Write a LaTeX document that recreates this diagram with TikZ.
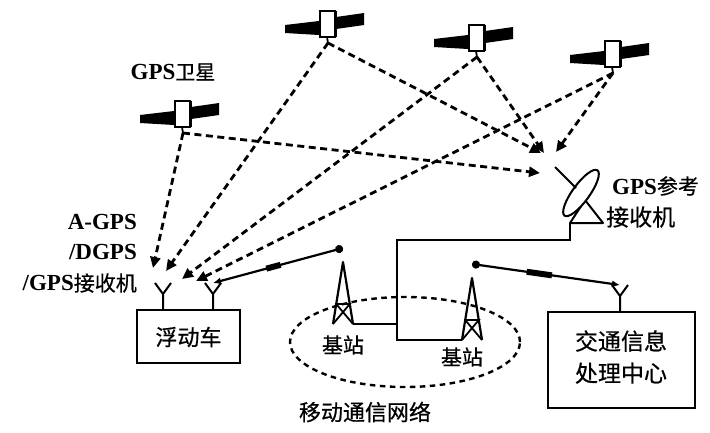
\documentclass[tikz,border=0pt]{standalone}
\usepackage{fontspec}
\setmainfont{Liberation Serif}
\newfontfamily\cjk{Noto Sans CJK SC}[FakeBold=0.6]
\usetikzlibrary{arrows.meta,shapes.geometric,calc}
\begin{document}
\begin{tikzpicture}[x=1pt,y=-1pt,
  signal/.style={line width=2.8pt, dash pattern=on 7pt off 4.5pt,
    -{Triangle[length=11pt,width=10pt]}},
  wire/.style={line width=2pt},
  link/.style={line width=2.2pt},
  boxnode/.style={draw, line width=2.3pt, inner sep=0pt},
  netring/.style={draw, ellipse, line width=2.4pt, dash pattern=on 5.5pt off 4.5pt, inner sep=0pt},
  lat/.style={font=\fontsize{23}{30}\selectfont\bfseries, inner sep=0pt},
  zh/.style={font=\fontsize{22}{32}\selectfont\cjk, inner sep=0pt},
  sat/.pic={
    % solar panels
    \fill (-42,0) -- (-8,-4) -- (-8,10) -- (-42,8) -- cycle;
    \fill (9,-8) -- (37,-12) -- (37,0) -- (9,4) -- cycle;
    % body
    \draw[line width=1.4pt, fill=white] (-7,-14) rectangle (8,12);
    \draw[line width=3pt] (8,-14) -- (8,12);
    \draw[line width=1.8pt] (0,12) -- (1,18);
    \coordinate (-tip) at (1,18);
  },
  tower/.pic={
    \draw[line width=2.2pt, line join=round] (-10,62) -- (0,0) -- (10,62);
    \draw[line width=1.8pt] (-6.8,42) -- (6.8,42) -- (-10,62) (-6.8,42) -- (10,62);
    \coordinate (-top) at (0,-14);
    \coordinate (-lfoot) at (-10,62);
    \coordinate (-rfoot) at (10,62);
  },
  aerial/.pic={
    \draw[line width=2pt, line join=round] (-8,-11) -- (0,0) -- (8,-11) (0,0) -- (0,16);
    \coordinate (-top) at (0,-11);
  }
]
\useasboundingbox (0,0) rectangle (710,432);

% satellites
\pic (s1) at (182,115) {sat};
\pic (s2) at (327,25) {sat};
\pic (s3) at (476,39) {sat};
\pic (s4) at (612,55) {sat};
\node[lat] (satlbl) at (173,72) {GPS{\cjk\mdseries\fontsize{20}{22}\selectfont 卫星}};

% mobile network ring and base stations
\node[netring, minimum width=230, minimum height=90] (net) at (405,342) {};
\pic (t1) at (343,262) {tower};
\pic (t2) at (472,278) {tower};
\node[zh, font=\fontsize{21}{24}\selectfont\cjk] (bs1) at (343,345) {基站};
\node[zh, font=\fontsize{21}{24}\selectfont\cjk] (bs2) at (462,357) {基站};
\node[zh] (netlbl) at (365,412) {移动通信网络};

% floating car
\node[boxnode, minimum width=103, minimum height=53] (car) at (188.5,336.5) {};
\node[zh] (carlbl) at (188.5,337) {浮动车};
\pic (ca1) at (163,294) {aerial};
\pic (ca2) at (213,294) {aerial};

% traffic information centre
\node[boxnode, minimum width=147, minimum height=96] (tic) at (621.5,360) {};
\node[zh, font=\fontsize{23}{32}\selectfont\cjk, align=center] (ticlbl) at (621,357) {交通信息\\处理中心};
\pic (ta) at (620,296) {aerial};

% receiver labels
\node[lat, anchor=east] (r1) at (137,222) {A-GPS};
\node[lat, anchor=east] (r2) at (137,252) {/DGPS};
\node[lat, anchor=east] (r3) at (137,283) {/GPS{\cjk\mdseries\fontsize{21}{24}\selectfont 接收机}};

% reference receiver: mount, dish and feed
\coordinate (mountL) at (570,223);
\coordinate (mountR) at (603,223);
\coordinate (mountA) at (585,200);
\draw[wire, line join=round] (mountL) -- (mountA) -- (mountR) -- cycle;
\draw[line width=2pt, fill=white, rotate around={54:(581,193)}] (581,193) ellipse [x radius=28, y radius=8.5];
\coordinate (feed) at (555,167);
\draw[line width=2pt] (feed) -- (576,188);
\node[lat, anchor=west] (g1) at (612,186) {GPS{\cjk\mdseries\fontsize{21}{24}\selectfont 参考}};
\node[zh, anchor=west, font=\fontsize{23}{26}\selectfont\cjk] (g2) at (606,217) {接收机};

% wired backbone
\coordinate (bus) at (397,240);
\draw[wire] (mountL) |- (bus) |- (t2-lfoot);
\draw[wire] (t1-rfoot) -- (t1-rfoot -| bus);

% satellite signals to the car
\coordinate (c1) at (153,268);
\coordinate (c2) at (166,271);
\coordinate (c3) at (182,279);
\coordinate (c4) at (196,281);
\draw[signal] (s1-tip) -- (c1);
\draw[signal] (s2-tip) -- (c2);
\draw[signal] (s3-tip) -- (c3);
\draw[signal] (s4-tip) -- (c4);

% satellite signals to the reference receiver
\coordinate (d1) at (540,173);
\coordinate (d2) at (541,153);
\coordinate (d3) at (544,153);
\coordinate (d4) at (556,152);
\draw[signal] (s1-tip) -- (d1);
\draw[signal] (s2-tip) -- (d2);
\draw[signal] (s3-tip) -- (d3);
\draw[signal] (s4-tip) -- (d4);

% radio links
\draw[link, {Latex[length=8pt,width=7pt]}-{Circle[length=8pt]}] (ca2-top) -- (t1-top);
\draw[line width=6pt] ($(ca2-top)!0.41!(t1-top)$) -- ($(ca2-top)!0.52!(t1-top)$);
\draw[link, {Circle[length=8pt]}-{Latex[length=8pt,width=7pt]}] (t2-top) -- (ta-top);
\draw[line width=6pt] ($(t2-top)!0.37!(ta-top)$) -- ($(t2-top)!0.54!(ta-top)$);
\end{tikzpicture}
\end{document}
